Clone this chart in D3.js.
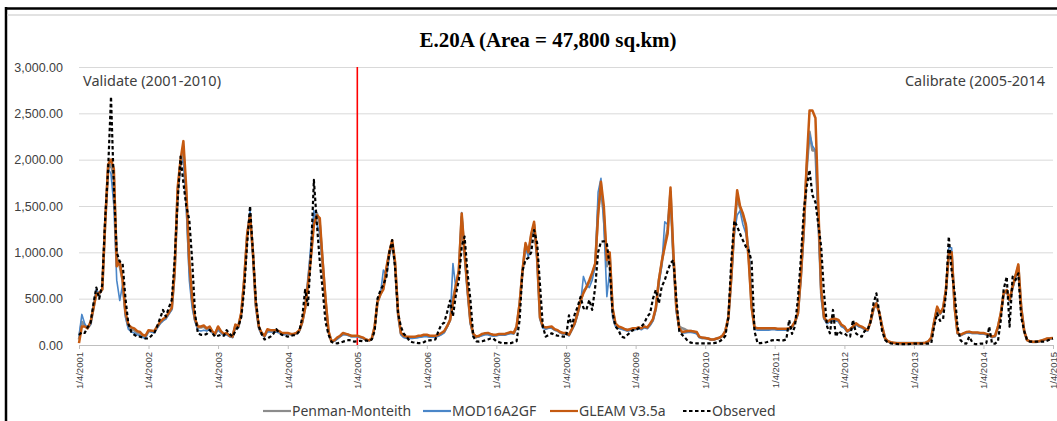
<!DOCTYPE html>
<html>
<head>
<meta charset="utf-8">
<script src="https://cdn.jsdelivr.net/npm/d3@7"></script>
<style>
  html, body { margin: 0; padding: 0; background: #fff; }
  svg { display: block; font-family: "Noto Sans", "Open Sans", sans-serif; }
</style>
</head>
<body>
<div id="chart"></div>
<script>
// half-monthly steps starting 1/4/2001 (index 0) up to 1/4/2015 (index 336)
const tickLabels = ["1/4/2001","1/4/2002","1/4/2003","1/4/2004","1/4/2005","1/4/2006","1/4/2007",
    "1/4/2008","1/4/2009","1/4/2010","1/4/2011","1/4/2012","1/4/2013","1/4/2014","1/4/2015"]
const yTicks = [0, 500, 1000, 1500, 2000, 2500, 3000]
const splitLabel = "1/4/2005"

const penman = [
    60,250,210,180,230,400,580,550,600,1300,1900,1950,1800,950,850,700,330,200,170,160,130,120,100,90,
    150,150,140,190,240,270,290,340,390,780,1650,1950,2100,1600,850,480,270,190,190,200,170,190,140,115,
    190,140,110,120,95,85,210,190,340,690,1180,1400,1000,430,190,120,95,160,150,150,150,140,120,120,
    125,115,115,125,155,245,400,680,1000,1350,1420,1300,900,480,140,40,45,70,95,120,115,105,95,95,
    95,85,75,58,48,65,190,460,550,620,800,1000,1100,880,330,120,90,80,80,80,85,90,95,100,
    100,95,95,95,105,120,140,200,270,500,650,800,1380,980,580,240,110,85,95,110,120,120,110,105,
    105,115,115,115,125,135,125,190,440,790,1080,980,1180,1300,930,290,190,180,190,190,165,155,135,125,
    125,105,165,230,340,470,580,620,680,760,870,1450,1700,1400,850,950,380,220,190,180,170,160,165,175,
    175,185,175,195,185,220,270,390,700,880,1100,1250,1650,950,380,200,180,170,150,150,140,130,85,75,
    75,70,60,60,70,80,100,150,300,720,1250,1600,1480,1400,1280,950,420,185,175,175,175,175,175,175,
    175,170,170,170,170,175,195,245,340,720,1250,1900,2300,2100,2100,1400,560,290,240,260,275,270,260,210,
    190,145,165,195,230,205,190,175,160,250,390,450,350,200,65,38,28,22,20,20,20,20,20,20,
    20,20,20,20,24,38,75,240,400,340,390,590,980,1000,400,125,105,120,135,140,130,130,130,125,
    125,115,105,85,95,190,335,550,590,480,620,740,850,410,145,52,38,33,33,38,48,58,66,70,72
]
const mod16 = [
    100,330,230,180,220,400,600,550,600,1300,1900,1850,1500,700,480,650,300,170,140,130,110,100,80,70,
    150,140,130,180,230,260,280,330,380,750,1600,1950,2000,1500,700,400,250,160,150,160,150,170,130,110,
    160,130,100,110,90,80,200,180,330,680,1200,1450,950,400,180,110,90,140,140,140,140,130,110,110,
    120,110,110,120,150,240,400,700,1100,1450,1300,1200,850,450,130,40,40,60,90,110,110,100,90,90,
    90,80,70,55,45,60,180,460,560,810,750,950,1100,850,300,110,80,70,70,70,75,80,85,90,
    90,85,85,85,95,110,130,190,260,880,600,780,1430,950,550,220,100,80,90,100,110,110,100,95,
    100,105,105,105,115,125,120,180,430,780,1050,950,1150,1300,900,280,180,170,180,180,160,150,130,120,
    120,100,160,220,330,450,740,650,620,700,850,1650,1799,1300,522,800,300,200,180,170,160,150,155,165,
    165,175,165,185,175,210,260,380,650,850,1330,1300,1600,900,350,160,130,130,135,135,130,120,80,70,
    70,65,55,55,65,75,95,140,280,700,1200,1400,1450,1300,1200,1050,500,170,160,160,160,160,160,165,
    165,160,160,160,160,165,190,240,330,700,1200,1900,2280,2150,2100,1300,500,280,230,250,265,260,250,200,
    180,140,155,180,215,195,185,165,150,240,380,460,360,190,60,35,25,20,18,18,18,18,18,18,
    18,18,18,18,22,35,70,230,390,330,380,580,1050,1050,420,120,100,115,130,130,125,125,125,120,
    120,110,100,80,90,180,330,540,580,470,610,720,800,420,140,50,35,30,30,35,45,55,62,65,68
]
const gleam = [
    20,200,200,180,250,400,550,560,600,1300,1950,2000,1900,850,900,700,350,220,190,180,150,140,110,100,
    160,155,150,200,250,280,300,350,400,800,1700,2000,2200,1700,900,500,280,200,200,210,180,200,150,120,
    200,150,120,130,100,90,220,200,350,700,1200,1400,1000,450,200,130,100,170,160,160,160,150,130,130,
    130,120,120,130,160,250,400,650,950,1300,1400,1370,900,500,150,40,50,80,100,130,120,110,100,100,
    100,90,80,60,50,70,200,470,550,600,840,1000,1130,900,350,130,100,90,90,90,90,100,100,110,
    110,100,100,100,110,130,150,200,270,450,650,800,1420,1000,600,250,120,90,100,120,126,130,120,110,
    110,120,120,120,130,140,130,200,450,800,1100,1000,1200,1330,950,300,200,190,195,200,170,160,140,130,
    130,110,170,234,350,480,560,620,700,780,880,1400,1763,1500,917,1000,400,234,200,190,175,162,170,180,
    180,190,180,200,190,230,280,400,700,900,1060,1200,1700,1000,400,180,140,145,150,150,145,140,90,80,
    75,70,60,60,70,80,100,150,300,730,1280,1670,1500,1420,1300,900,400,190,180,180,180,180,180,180,
    180,175,175,175,175,180,200,250,342,737,1277,1960,2530,2530,2450,1500,600,300,250,270,285,280,270,220,
    200,150,170,198,234,210,198,180,162,250,400,450,350,200,70,40,30,25,20,20,20,20,20,20,
    20,20,20,20,25,40,80,250,414,342,400,600,990,1000,400,130,110,126,140,144,135,135,135,130,
    130,120,110,90,100,198,342,557,594,486,630,750,870,400,150,54,40,36,36,40,50,60,70,72,75
]
const observed = [
    108,140,130,190,240,450,620,500,650,1350,1900,2680,1700,1000,900,880,500,230,140,110,90,90,80,70,
    70,100,126,200,290,378,306,400,486,917,1565,2032,1750,1500,1350,917,342,126,110,108,120,162,130,90,
    100,110,100,160,120,90,150,200,300,600,1100,1500,1000,500,200,120,60,70,90,120,170,130,110,100,
    90,100,105,110,150,300,594,430,990,1781,1300,900,600,250,110,36,20,18,25,36,45,54,45,36,
    40,45,40,50,40,60,150,500,594,650,737,1000,1133,840,342,198,120,90,40,30,25,20,20,30,
    50,50,55,60,150,220,240,350,480,310,550,700,1060,1170,770,480,90,40,36,40,50,60,70,70,
    40,30,20,20,20,20,30,40,270,800,920,940,1000,1240,1100,650,200,90,110,126,110,100,100,90,
    90,320,200,330,414,520,400,378,486,378,630,1000,1115,1120,1097,840,342,200,162,90,80,108,130,160,
    162,180,198,234,306,342,500,594,450,630,700,800,880,917,500,150,110,80,40,25,20,18,18,18,
    18,18,18,20,25,40,60,100,300,900,1340,1280,1200,1130,1060,1020,900,150,20,20,25,30,36,50,
    54,54,50,50,60,270,120,200,500,917,1457,1709,1888,1620,1540,1300,1061,557,200,126,378,90,150,126,
    126,100,90,270,126,100,90,150,162,250,450,557,350,150,54,25,18,15,12,10,10,10,10,12,
    15,15,15,15,15,15,20,200,342,260,280,557,1170,800,557,198,54,20,15,90,30,10,10,15,
    15,20,198,15,15,40,270,600,737,198,737,700,773,300,150,54,36,36,36,36,36,36,45,60,70
]

const seriesNames = ["Penman-Monteith", "MOD16A2GF", "GLEAM V3.5a", "Observed"]

const width = 1057, height = 421
const margin = { top: 67, right: 4, bottom: 76, left: 79 }
const parseLabel = d3.timeParse("%d/%m/%Y")
const stepDate = i => new Date(2001, 3 + Math.floor(i / 2), i % 2 ? 16 : 1)

const styles = [
    { color: "#8c8c8c", w: 2.6, dash: null },
    { color: "#4a86c8", w: 1.6, dash: null },
    { color: "#c55a11", w: 2.5, dash: null },
    { color: "#000000", w: 2.2, dash: "3.5,2.5" },
]

const svg = d3.select("#chart").append("svg")
    .attr("width", width)
    .attr("height", height)

// outer frame
svg.append("line").attr("x1", 5).attr("x2", width).attr("y1", 8.5).attr("y2", 8.5)
    .attr("stroke", "#000").attr("stroke-width", 2.5)
svg.append("line").attr("x1", 6).attr("x2", 6).attr("y1", 7).attr("y2", height)
    .attr("stroke", "#000").attr("stroke-width", 2.5)
svg.append("line").attr("x1", 7).attr("x2", width).attr("y1", 15).attr("y2", 15)
    .attr("stroke", "#d9d9d9").attr("stroke-width", 1.5)

const x = d3.scaleTime()
    .domain([parseLabel(tickLabels[0]), parseLabel(tickLabels[tickLabels.length - 1])])
    .range([margin.left, width - margin.right])
const y = d3.scaleLinear()
    .domain([0, 3000])
    .range([height - margin.bottom, margin.top])

/* GRID + Y AXIS */
svg.append("g")
    .attr("transform", `translate(${margin.left}, 0)`)
    .call(d3.axisLeft(y)
        .tickValues(yTicks)
        .tickSize(-(width - margin.left - margin.right))
        .tickPadding(16)
        .tickFormat(d3.format(",.2f"))
    )
    .call(g => g.select(".domain").remove())
    .call(g => g.selectAll(".tick line").attr("stroke", "#d9d9d9"))
    .selectAll(".tick text")
        .style("font-size", "12.5px")
        .style("fill", "#404040")

/* X AXIS */
const xAxis = svg.append("g")
    .attr("transform", `translate(0, ${y(0)})`)
    .call(d3.axisBottom(x)
        .tickValues(tickLabels.map(parseLabel))
        .tickSize(4)
        .tickFormat((d, i) => tickLabels[i])
    )
xAxis.select(".domain").attr("stroke", "#bfbfbf")
xAxis.selectAll(".tick line").attr("stroke", "#bfbfbf")
xAxis.selectAll(".tick text")
    .style("font-size", "9.5px")
    .style("fill", "#404040")
    .attr("text-anchor", "end")
    .attr("transform", "rotate(-90)")
    .attr("x", -7)
    .attr("y", 0)
    .attr("dy", "0.35em")

/* SPLIT LINE */
svg.append("line")
    .attr("x1", x(parseLabel(splitLabel))).attr("x2", x(parseLabel(splitLabel)))
    .attr("y1", y(3000)).attr("y2", y(0))
    .attr("stroke", "#ff0000").attr("stroke-width", 1.6)

/* SERIES */
const line = d3.line()
    .x((d, i) => x(stepDate(i)))
    .y(d => y(d))

;[penman, mod16, gleam, observed].forEach((vals, k) => {
    svg.append("path")
        .datum(vals)
        .attr("fill", "none")
        .attr("stroke", styles[k].color)
        .attr("stroke-width", styles[k].w)
        .attr("stroke-dasharray", styles[k].dash)
        .attr("stroke-linejoin", "round")
        .attr("d", line)
})

/* TEXTS */
svg.append("text")
    .attr("x", 548).attr("y", 47)
    .attr("text-anchor", "middle")
    .style("font-family", "'Liberation Serif', 'Times New Roman', serif")
    .style("font-weight", "bold")
    .style("font-size", "21px")
    .style("fill", "#000")
    .text("E.20A (Area = 47,800 sq.km)")

svg.append("text")
    .attr("x", 83).attr("y", 86)
    .style("font-size", "14.5px")
    .style("fill", "#404040")
    .text("Validate (2001-2010)")

svg.append("text")
    .attr("x", 1045).attr("y", 86)
    .attr("text-anchor", "end")
    .style("font-size", "14.5px")
    .style("fill", "#404040")
    .text("Calibrate (2005-2014")

/* LEGEND */
const legendX = [263, 423, 550, 683]
const legend = svg.append("g")
seriesNames.forEach((name, k) => {
    legend.append("line")
        .attr("x1", legendX[k]).attr("x2", legendX[k] + 28)
        .attr("y1", 411).attr("y2", 411)
        .attr("stroke", styles[k].color)
        .attr("stroke-width", k === 3 ? 2 : 2.2)
        .attr("stroke-dasharray", styles[k].dash)
    legend.append("text")
        .attr("x", legendX[k] + 29).attr("y", 416)
        .style("font-size", "14px")
        .style("fill", "#404040")
        .text(name)
})
</script>
</body>
</html>
